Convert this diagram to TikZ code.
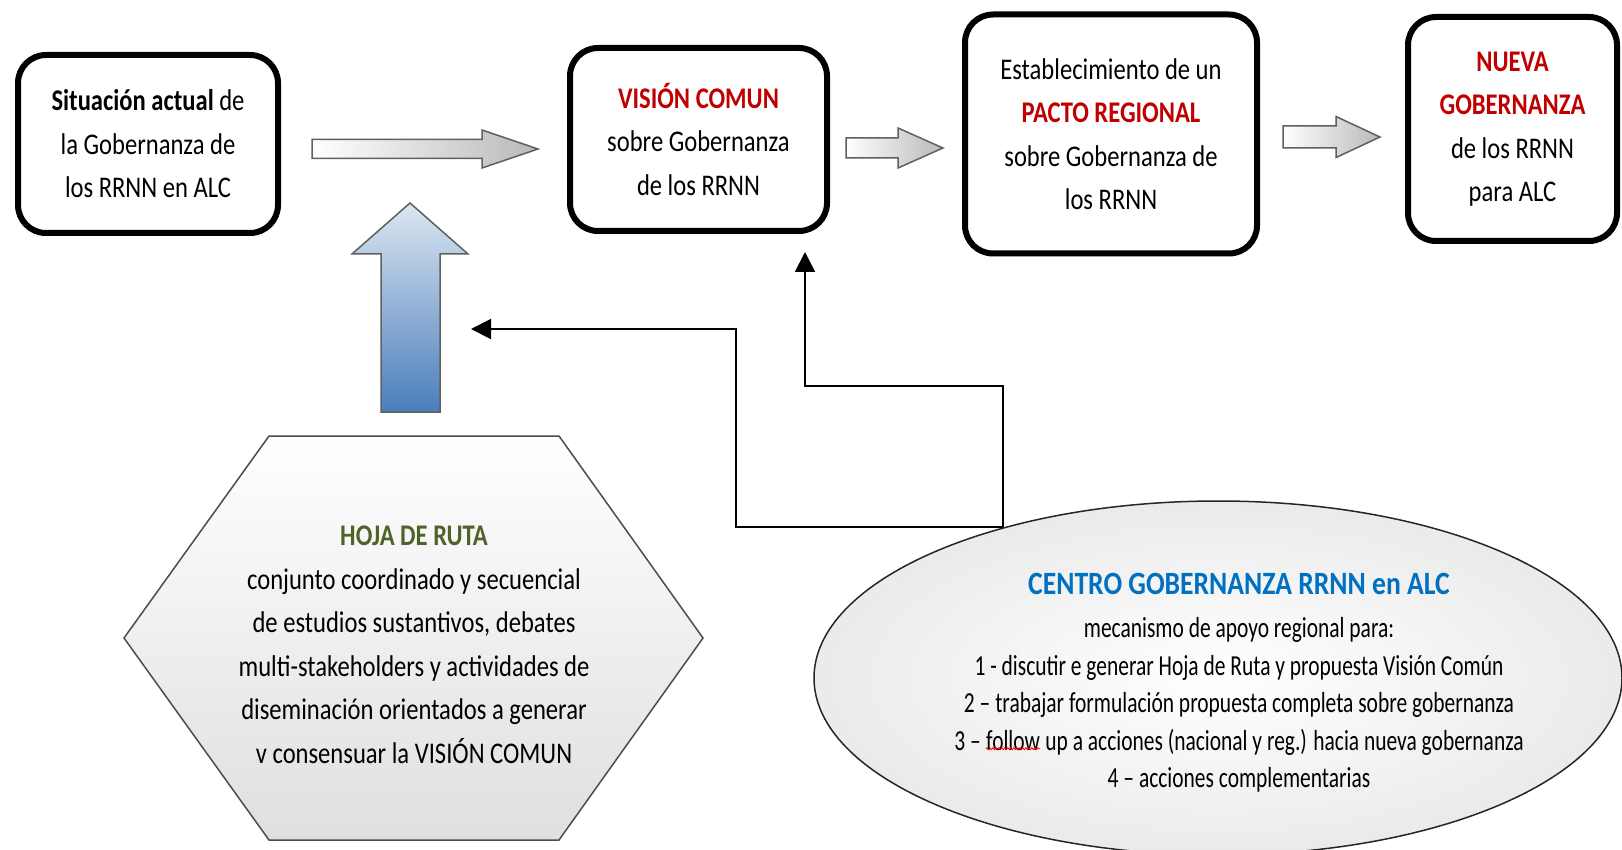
\documentclass[tikz,border=0pt]{standalone}
\usepackage{fontspec}
\setmainfont{Carlito}[FakeStretch=0.82]
\newfontfamily\ellfont{Carlito}[FakeStretch=0.74]
\newfontfamily\elltitlefont{Carlito}[FakeStretch=0.85]
\usetikzlibrary{arrows.meta,shapes.geometric,decorations.pathmorphing}
\definecolor{titlered}{HTML}{C00000}
\definecolor{hojagreen}{HTML}{4F6228}
\definecolor{centroblue}{HTML}{0070C0}
\definecolor{arrowedge}{HTML}{5F5F5F}
\definecolor{bluetop}{HTML}{DCE6F2}
\definecolor{bluebot}{HTML}{4A7EBB}
\begin{document}
\begin{tikzpicture}[x=1pt,y=-1pt,
  stagebox/.style={draw=black, line width=6pt, rounded corners=28pt, fill=white, align=center,
     font=\fontsize{30}{43.5}\selectfont, inner sep=0pt},
  blockarrow/.style={draw=arrowedge, line width=1.5pt, left color=white, right color=gray!55},
  uparrow/.style={draw=arrowedge, line width=1.5pt, top color=bluetop, bottom color=bluebot},
  conn/.style={draw=black, line width=2pt},
  tipend/.style={-{Triangle[length=20pt,width=20pt]}},
  bodytext/.style={align=center, font=\fontsize{30}{43.5}\selectfont, inner sep=0pt},
  smalltext/.style={align=center, font=\ellfont\fontsize{29}{37.5}\selectfont, inner sep=0pt},
]
\useasboundingbox (0,0) rectangle (1622,850);
\clip (0,0) rectangle (1622,850);

% stage boxes
\node[stagebox, minimum width=260, minimum height=178] (sit) at (148,144)
  {\textbf{Situación actual} de\\la Gobernanza de\\los RRNN en ALC};
\node[stagebox, minimum width=257, minimum height=183] (vis) at (698.5,139.5)
  {\textbf{\color{titlered}VISIÓN COMUN}\\sobre Gobernanza\\de los RRNN};
\node[stagebox, minimum width=292, minimum height=239] (pacto) at (1111,134)
  {Establecimiento de un\\\textbf{\color{titlered}PACTO REGIONAL}\\sobre Gobernanza de\\los RRNN};
\node[stagebox, minimum width=209, minimum height=224] (nueva) at (1512.5,129)
  {\textbf{\color{titlered}NUEVA}\\\textbf{\color{titlered}GOBERNANZA}\\de los RRNN\\para ALC};

% block arrows between stages
\path[blockarrow] (312,139.5) -- (482,139.5) -- (482,130) -- (538,149) -- (482,168) -- (482,158.5) -- (312,158.5) -- cycle;
\path[blockarrow] (846,138) -- (898,138) -- (898,128) -- (943,148) -- (898,168) -- (898,158) -- (846,158) -- cycle;
\path[blockarrow] (1283,126) -- (1336,126) -- (1336,116.5) -- (1380,137) -- (1336,157.5) -- (1336,148) -- (1283,148) -- cycle;

% blue up arrow
\path[uparrow] (381,412) -- (381,254) -- (352,254) -- (410,203) -- (468,254) -- (440,254) -- (440,412) -- cycle;

% hexagon
\path[draw=gray!60!black, line width=1.5pt, top color=white, bottom color=gray!25]
  (269,436) -- (559,436) -- (703,638) -- (559,840) -- (269,840) -- (124,638) -- cycle;
\node[bodytext] (hoja) at (414,645)
  {\textbf{\color{hojagreen}HOJA DE RUTA}\\conjunto coordinado y secuencial\\de estudios sustantivos,\ debates\\multi-stakeholders y actividades de\\diseminación orientados a generar\\v consensuar la VISIÓN COMUN};

% ellipse
\node[ellipse, draw=gray!30!black, line width=1.5pt, inner color=white, outer color=gray!16,
  minimum width=808, minimum height=354] (centro) at (1218,678) {};
\node[smalltext] (centrotxt) at (1239,683)
  {{\elltitlefont\fontsize{32.5}{43}\selectfont\textbf{\color{centroblue}CENTRO GOBERNANZA RRNN en ALC}}\\[5.5pt]
   mecanismo de apoyo regional para:\\
   1 - discutir e generar Hoja de Ruta y propuesta Visión Común\\
   2 – trabajar formulación propuesta completa sobre gobernanza\\
   3 – \tikz[baseline=(fw.base)]{\node[inner sep=0pt] (fw) {follow};
        \draw[red, line width=0.8pt, decorate, decoration={snake, amplitude=1pt, segment length=3pt}]
        ([yshift=2pt]fw.south west) -- ([yshift=2pt]fw.south east);} up a acciones (nacional y reg.) hacia nueva gobernanza\\
   4 – acciones complementarias};

% connectors
\coordinate (t2) at (805,252);
\coordinate (t1) at (471,329);
\draw[conn, tipend] (centro.145) -- ++(0,-141) -| (t2);
\draw[conn, tipend] (centro.145) -- ++(-267,0) |- (t1);
\end{tikzpicture}
\end{document}
